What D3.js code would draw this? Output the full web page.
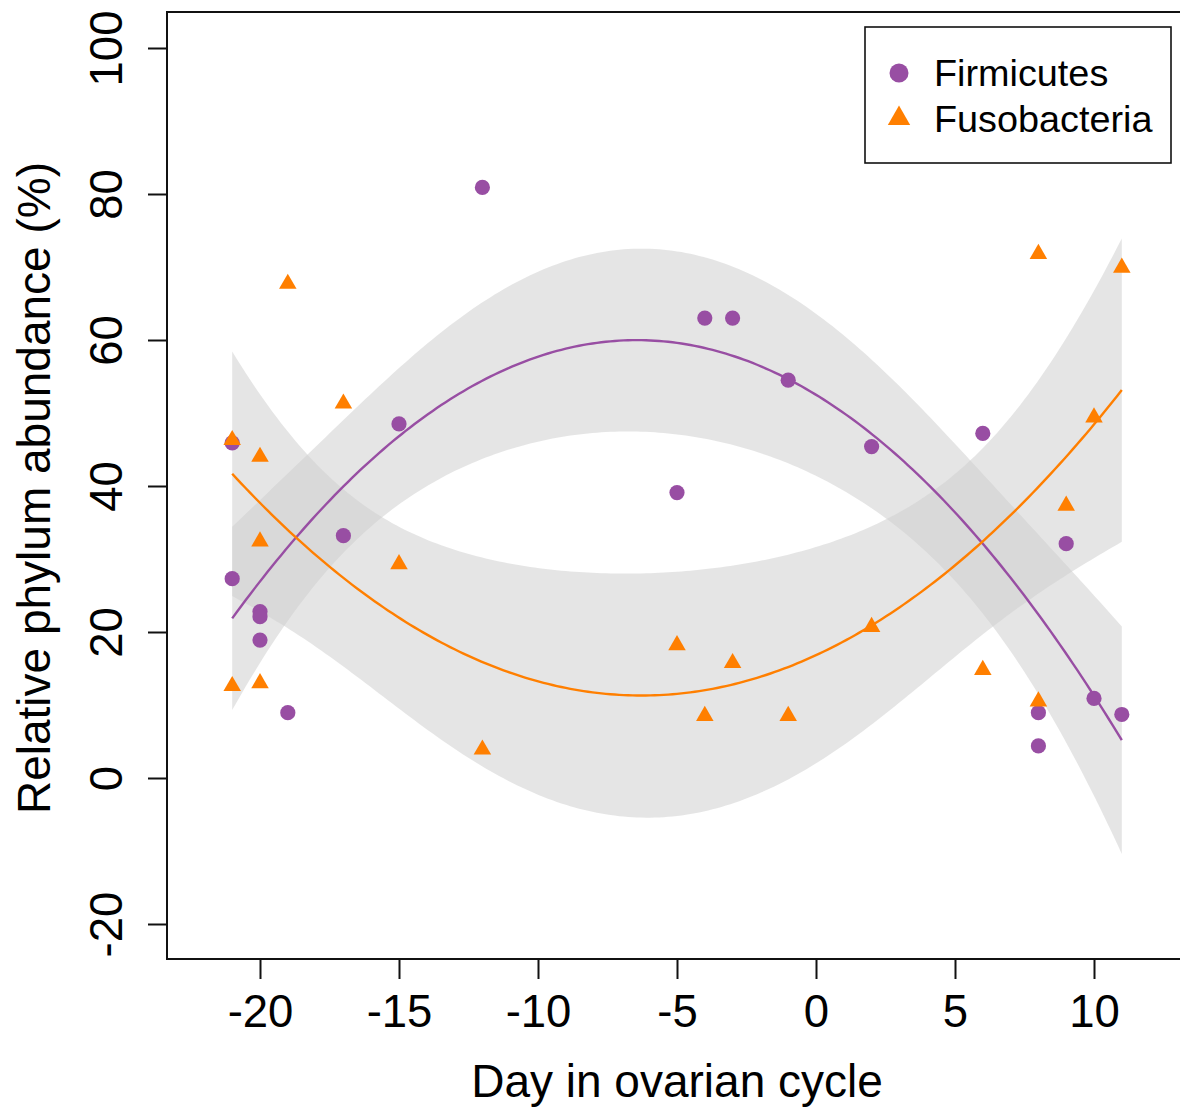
<!DOCTYPE html>
<html>
<head>
<meta charset="utf-8">
<script src="https://cdn.jsdelivr.net/npm/d3@7"></script>
<style>
  html, body { margin: 0; padding: 0; background: #fff; }
  svg { display: block; font-family: "Liberation Sans", Arial, sans-serif; }
</style>
</head>
<body>
<svg id="chart" width="1180" height="1109"></svg>
<script>
// ---- data ----
const firmDays = [-21, -21, -20, -20, -20, -19, -17, -15, -12, -5, -4, -3, -1, 2, 6, 8, 8, 9, 10, 11];
const firmValues = [45.9, 27.3, 22.8, 22.1, 18.9, 8.95, 33.2, 48.5, 80.9, 39.1, 63.0, 63.0, 54.5, 45.4, 47.2, 8.95, 4.4, 32.1, 10.9, 8.7];
const fusoDays = [-21, -21, -20, -20, -20, -19, -17, -15, -12, -5, -4, -3, -1, 2, 6, 8, 8, 9, 10, 11];
const fusoValues = [46.3, 12.6, 44.0, 32.4, 13.0, 67.7, 51.3, 29.3, 3.9, 18.2, 8.5, 15.75, 8.5, 20.7, 14.8, 10.5, 71.8, 37.3, 49.4, 69.9];
const seriesNames = ["Firmicutes", "Fusobacteria"];
const seriesColors = ["#984EA3", "#FF7F00"];
const xTicks = [-20, -15, -10, -5, 0, 5, 10];
const yTicks = [-20, 0, 20, 40, 60, 80, 100];
const xTitle = "Day in ovarian cycle";
const yTitle = "Relative phylum abundance (%)";

// ---- quadratic least squares fit with 95% confidence band ----
function inv3(m) {
  const [a, b, c] = m[0], [d, e, f] = m[1], [g, h, i] = m[2];
  const A = e * i - f * h, B = -(d * i - f * g), C = d * h - e * g;
  const det = a * A + b * B + c * C;
  return [
    [A / det, -(b * i - c * h) / det, (b * f - c * e) / det],
    [B / det, (a * i - c * g) / det, -(a * f - c * d) / det],
    [C / det, -(a * h - b * g) / det, (a * e - b * d) / det]
  ];
}
function quadFit(xs, ys) {
  const n = xs.length;
  const XtX = [[0,0,0],[0,0,0],[0,0,0]], Xty = [0,0,0];
  xs.forEach((x, k) => {
    const r = [1, x, x * x];
    for (let i = 0; i < 3; i++) {
      Xty[i] += r[i] * ys[k];
      for (let j = 0; j < 3; j++) XtX[i][j] += r[i] * r[j];
    }
  });
  const Inv = inv3(XtX);
  const beta = Inv.map(row => row[0] * Xty[0] + row[1] * Xty[1] + row[2] * Xty[2]);
  const pred = x => beta[0] + beta[1] * x + beta[2] * x * x;
  let sse = 0;
  xs.forEach((x, k) => { sse += (ys[k] - pred(x)) ** 2; });
  const s2 = sse / (n - 3);
  const tq = 2.109816; // t(0.975, df = 17)
  const se = x => {
    const r = [1, x, x * x];
    let v = 0;
    for (let i = 0; i < 3; i++) for (let j = 0; j < 3; j++) v += r[i] * Inv[i][j] * r[j];
    return Math.sqrt(s2 * v);
  };
  const lo = d3.min(xs), hi = d3.max(xs);
  const grid = d3.range(0, 201).map(k => lo + (hi - lo) * k / 200);
  return grid.map(x => ({ x, y: pred(x), lo: pred(x) - tq * se(x), hi: pred(x) + tq * se(x) }));
}

const series = [
  { name: seriesNames[0], color: seriesColors[0], days: firmDays, values: firmValues, shape: "circle" },
  { name: seriesNames[1], color: seriesColors[1], days: fusoDays, values: fusoValues, shape: "triangle" }
];
series.forEach(s => { s.fit = quadFit(s.days, s.values); });

// ---- scales ----
const x = d3.scaleLinear().domain([-20, 10]).range([260, 1094]);
const y = d3.scaleLinear().domain([0, 100]).range([778, 48]);
const box = { left: 167, right: 1190, top: 12, bottom: 959 };

const svg = d3.select("#chart");

// triangle path (R pch 17 geometry)
function triPath(R) {
  const r = 1.5551 * R, xc = 1.3468 * R, yc = 0.7776 * R;
  return `M0,${-r}L${xc},${yc}L${-xc},${yc}Z`;
}

// confidence bands
const area = d3.area().x(d => x(d.x)).y0(d => y(d.lo)).y1(d => y(d.hi));
svg.append("g").selectAll("path").data(series).join("path")
  .attr("d", s => area(s.fit))
  .attr("fill", "rgb(207,207,207)")
  .attr("fill-opacity", 0.54);

// fitted lines
const line = d3.line().x(d => x(d.x)).y(d => y(d.y));
svg.append("g").selectAll("path").data(series).join("path")
  .attr("d", s => line(s.fit))
  .attr("fill", "none")
  .attr("stroke", s => s.color)
  .attr("stroke-width", 2.4);

// points
series.forEach(s => {
  const pts = s.days.map((d, i) => ({ d, v: s.values[i] }));
  const g = svg.append("g");
  if (s.shape === "circle") {
    g.selectAll("circle").data(pts).join("circle")
      .attr("cx", p => x(p.d)).attr("cy", p => y(p.v)).attr("r", 7.6)
      .attr("fill", s.color);
  } else {
    g.selectAll("path").data(pts).join("path")
      .attr("transform", p => `translate(${x(p.d)},${y(p.v)})`)
      .attr("d", triPath(6.5))
      .attr("fill", s.color);
  }
});

// plot box
svg.append("rect")
  .attr("x", box.left).attr("y", box.top)
  .attr("width", box.right - box.left).attr("height", box.bottom - box.top)
  .attr("fill", "none").attr("stroke", "#111").attr("stroke-width", 2);

// x axis
const xAxis = d3.axisBottom(x).tickValues(xTicks).tickSize(20).tickPadding(16)
  .tickFormat(d => d < 0 ? "-" + Math.abs(d) : String(d));
const gx = svg.append("g").attr("transform", `translate(0,${box.bottom})`).call(xAxis);
gx.select(".domain").remove();
gx.selectAll(".tick line").attr("stroke", "#111").attr("stroke-width", 2);
gx.selectAll(".tick text").attr("font-size", 45.5).attr("fill", "#000")
  .attr("font-family", "Liberation Sans, Arial, sans-serif");

// y axis
const yAxis = d3.axisLeft(y).tickValues(yTicks).tickSize(19)
  .tickFormat(d => d < 0 ? "-" + Math.abs(d) : String(d));
const gy = svg.append("g").attr("transform", `translate(${box.left},0)`).call(yAxis);
gy.select(".domain").remove();
gy.selectAll(".tick line").attr("stroke", "#111").attr("stroke-width", 2);
gy.selectAll(".tick text")
  .attr("font-size", 45.5).attr("fill", "#000")
  .attr("font-family", "Liberation Sans, Arial, sans-serif")
  .attr("x", null).attr("dy", null)
  .attr("text-anchor", "middle")
  .attr("transform", "translate(-45,0) rotate(-90)");

// axis titles
svg.append("text")
  .attr("x", 677).attr("y", 1097)
  .attr("text-anchor", "middle").attr("font-size", 46).attr("fill", "#000")
  .text(xTitle);
svg.append("text")
  .attr("transform", `translate(50,488) rotate(-90)`)
  .attr("text-anchor", "middle").attr("font-size", 46).attr("fill", "#000")
  .text(yTitle);

// legend
const lg = svg.append("g");
lg.append("rect").attr("x", 865).attr("y", 27).attr("width", 306).attr("height", 136)
  .attr("fill", "#fff").attr("stroke", "#111").attr("stroke-width", 1.6);
lg.append("circle").attr("cx", 899).attr("cy", 73).attr("r", 9.5).attr("fill", seriesColors[0]);
lg.append("path").attr("transform", "translate(899,118.5)").attr("d", triPath(8.3)).attr("fill", seriesColors[1]);
lg.selectAll("text.lab").data(seriesNames).join("text")
  .attr("class", "lab")
  .attr("x", 934).attr("y", (d, i) => 86 + i * 46)
  .attr("font-size", 37.8).attr("fill", "#000")
  .text(d => d);
</script>
</body>
</html>
